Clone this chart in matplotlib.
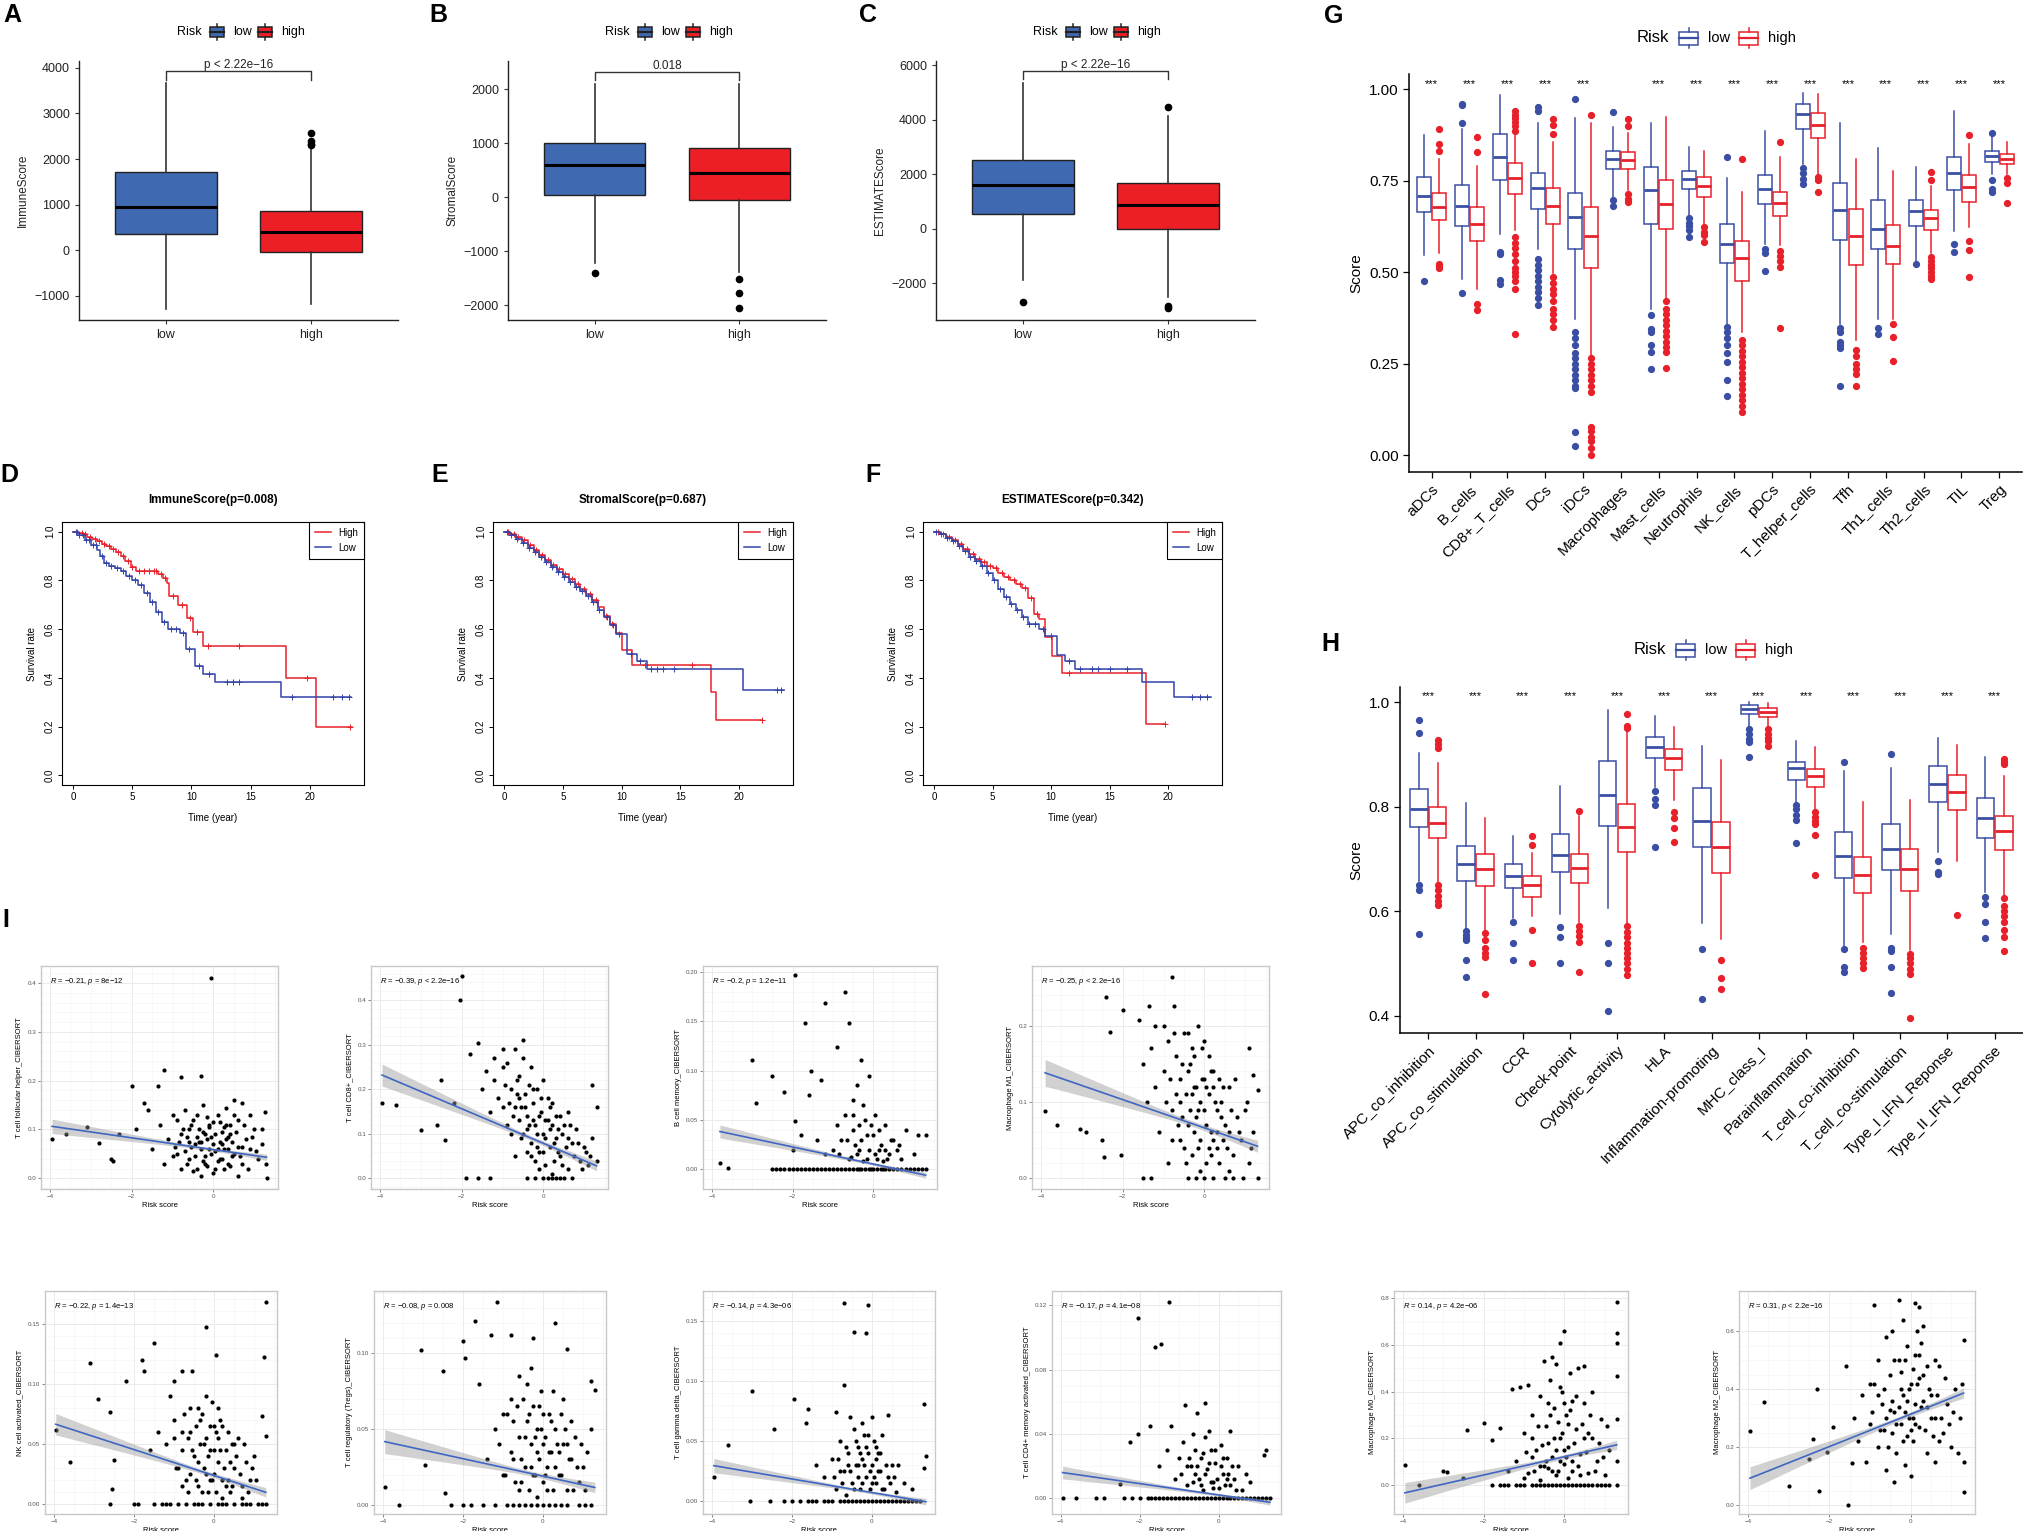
import numpy as np
import matplotlib
matplotlib.use('Agg')
import matplotlib.pyplot as plt
from matplotlib.patches import Rectangle
from matplotlib.lines import Line2D

plt.rcParams['font.family'] = ['Liberation Sans', 'DejaVu Sans']
plt.rcParams['mathtext.fontset'] = 'custom'
plt.rcParams['mathtext.rm'] = 'Liberation Sans'
plt.rcParams['mathtext.it'] = 'Liberation Sans:italic'

# ---------------- data: A-C (ESTIMATE scores by risk group) ----------------
abc_names = ['ImmuneScore', 'StromalScore', 'ESTIMATEScore']
# (q1, median, q3, whisker low, whisker high)
abc_low = [(349, 950, 1705, -1279, 3670), (43, 600, 1000, -1224, 2099), (528, 1607, 2528, -1877, 5337)]
abc_high = [(-47, 393, 870, -1169, 2277), (-49, 451, 915, -1380, 2099), (0, 883, 1693, -2490, 4150)]
abc_low_out = [[], [-1410], [-2699]]
abc_high_out = [[2300, 2340, 2390, 2570], [-1520, -1775, -2060], [4478, -2850, -2920]]
abc_pval = ['p < 2.22e\u221216', '0.018', 'p < 2.22e\u221216']
abc_bracket = [(3927, 3740), (2328, 2173), (5791, 5509)]
abc_ylim = [(-1530, 4150), (-2278, 2526), (-3350, 6160)]
abc_yticks = [[-1000, 0, 1000, 2000, 3000, 4000], [-2000, -1000, 0, 1000, 2000],
              [-2000, 0, 2000, 4000, 6000]]

# ---------------- data: D-F (Kaplan-Meier) ----------------
km_titles = ['ImmuneScore(p=0.008)', 'StromalScore(p=0.687)', 'ESTIMATEScore(p=0.342)']

d_high_t = [0, 0.4, 0.8, 1.2, 1.6, 2.0, 2.4, 2.8, 3.2, 3.6, 4.0, 4.4, 4.9, 5.3, 7.2, 7.6, 7.9, 8.1, 8.9, 9.6, 10.1, 11.0, 18.0, 20.5]
d_high_s = [1.0, 0.995, 0.99, 0.98, 0.97, 0.96, 0.95, 0.94, 0.93, 0.915, 0.90, 0.88, 0.855, 0.84, 0.825, 0.81, 0.79, 0.735, 0.70, 0.645, 0.59, 0.53, 0.40, 0.20]
d_high_end = 23.6
d_high_cens = [0.3, 0.7, 1.0, 1.4, 1.8, 2.2, 2.6, 3.0, 3.4, 3.8, 4.2, 4.6, 5.0, 5.6, 6.0, 6.4, 6.8, 7.0, 7.4, 7.8, 8.4, 9.2, 9.9, 10.5, 11.4, 14.0, 19.8, 23.4]
d_low_t = [0, 0.5, 1.0, 1.5, 2.0, 2.3, 2.6, 3.0, 3.5, 4.0, 4.5, 5.0, 5.5, 6.0, 6.5, 7.0, 7.5, 8.0, 9.0, 9.5, 10.3, 11.0, 12.0, 17.6]
d_low_s = [1.0, 0.985, 0.965, 0.945, 0.925, 0.90, 0.87, 0.86, 0.85, 0.84, 0.82, 0.80, 0.78, 0.75, 0.71, 0.67, 0.63, 0.60, 0.585, 0.52, 0.45, 0.415, 0.385, 0.32]
d_low_end = 23.5
d_low_cens = [0.2, 0.5, 0.8, 1.1, 1.3, 1.7, 1.9, 2.4, 2.8, 3.2, 3.7, 4.2, 4.7, 5.2, 5.7, 6.2, 6.7, 7.2, 7.7, 8.3, 8.7, 9.3, 9.8, 10.6, 11.5, 13.0, 13.5, 14.0, 18.5, 22.0, 22.7, 23.3]

e_high_t = [0, 0.5, 1.0, 1.5, 2.0, 2.5, 3.0, 3.5, 4.0, 4.5, 5.0, 5.5, 6.0, 6.5, 7.0, 7.5, 8.0, 8.5, 9.0, 9.5, 10.0, 10.9, 17.6, 18.0]
e_high_s = [1.0, 0.99, 0.98, 0.965, 0.945, 0.925, 0.905, 0.885, 0.865, 0.845, 0.825, 0.805, 0.785, 0.765, 0.745, 0.72, 0.69, 0.655, 0.62, 0.585, 0.516, 0.452, 0.34, 0.226]
e_high_end = 22.0
e_high_cens = [0.3, 0.8, 1.2, 1.7, 2.2, 2.7, 3.2, 3.7, 4.2, 4.7, 5.2, 5.8, 6.3, 6.8, 7.3, 7.8, 8.7, 9.2, 12.0, 16.0, 22.0]
e_low_t = [0, 0.5, 1.0, 1.5, 2.0, 2.5, 3.0, 3.5, 4.0, 4.5, 5.0, 5.5, 6.0, 6.5, 7.0, 7.5, 8.0, 8.5, 9.0, 9.5, 10.5, 11.3, 12.2, 20.3]
e_low_s = [1.0, 0.985, 0.97, 0.955, 0.935, 0.915, 0.895, 0.875, 0.855, 0.835, 0.815, 0.795, 0.775, 0.755, 0.735, 0.71, 0.68, 0.65, 0.615, 0.58, 0.50, 0.47, 0.436, 0.349]
e_low_end = 23.8
e_low_cens = [0.2, 0.6, 1.1, 1.6, 2.1, 2.6, 3.1, 3.6, 4.1, 4.6, 5.1, 5.6, 6.1, 6.6, 7.1, 7.6, 8.1, 8.8, 9.3, 9.8, 10.8, 11.6, 12.5, 13.0, 13.5, 14.5, 23.2, 23.6]

f_high_t = [0, 0.5, 1.0, 1.5, 2.0, 2.5, 3.0, 3.5, 4.0, 4.5, 5.0, 5.5, 6.0, 6.5, 7.0, 7.5, 8.0, 8.5, 9.0, 9.5, 10.1, 10.9, 18.1]
f_high_s = [1.0, 0.99, 0.98, 0.965, 0.95, 0.93, 0.91, 0.89, 0.875, 0.86, 0.85, 0.83, 0.815, 0.80, 0.785, 0.77, 0.726, 0.664, 0.64, 0.568, 0.489, 0.42, 0.21]
f_high_end = 19.7
f_high_cens = [0.3, 0.8, 1.3, 1.8, 2.3, 2.8, 3.3, 3.8, 4.3, 4.8, 5.3, 5.8, 6.3, 6.8, 7.3, 7.8, 8.3, 8.8, 11.5, 19.7]
f_low_t = [0, 0.5, 1.0, 1.5, 2.0, 2.5, 3.0, 3.5, 4.0, 4.5, 5.0, 5.5, 6.0, 6.5, 7.0, 7.5, 8.0, 9.0, 9.5, 10.5, 11.2, 12.0, 17.8, 20.5]
f_low_s = [1.0, 0.99, 0.975, 0.96, 0.94, 0.92, 0.895, 0.88, 0.86, 0.83, 0.80, 0.765, 0.733, 0.705, 0.68, 0.65, 0.623, 0.60, 0.57, 0.493, 0.47, 0.438, 0.385, 0.32]
f_low_end = 23.7
f_low_cens = [0.2, 0.6, 1.1, 1.6, 2.1, 2.6, 3.1, 3.6, 4.1, 4.6, 5.1, 5.6, 6.1, 6.6, 7.1, 7.6, 8.1, 8.6, 9.3, 10.0, 11.5, 12.5, 13.5, 14.0, 15.0, 16.5, 22.0, 22.7, 23.3]

# ---------------- data: G (immune cells ssGSEA) ----------------
g_cats = ['aDCs', 'B_cells', 'CD8+_T_cells', 'DCs', 'iDCs', 'Macrophages', 'Mast_cells', 'Neutrophils',
          'NK_cells', 'pDCs', 'T_helper_cells', 'Tfh', 'Th1_cells', 'Th2_cells', 'TIL', 'Treg']
g_low = [(0.663, 0.708, 0.759, 0.546, 0.874), (0.627, 0.681, 0.738, 0.481, 0.892),
         (0.751, 0.813, 0.876, 0.605, 0.984), (0.672, 0.729, 0.771, 0.564, 0.908),
         (0.562, 0.651, 0.716, 0.373, 0.921), (0.781, 0.808, 0.832, 0.706, 0.897),
         (0.630, 0.724, 0.786, 0.400, 0.908), (0.726, 0.755, 0.775, 0.654, 0.841),
         (0.526, 0.576, 0.632, 0.357, 0.757), (0.686, 0.726, 0.765, 0.578, 0.884),
         (0.892, 0.933, 0.960, 0.795, 0.990), (0.587, 0.670, 0.744, 0.357, 0.908),
         (0.564, 0.618, 0.697, 0.373, 0.838), (0.627, 0.667, 0.697, 0.530, 0.787),
         (0.724, 0.770, 0.813, 0.611, 0.941), (0.800, 0.816, 0.832, 0.768, 0.870)]
g_high = [(0.641, 0.678, 0.716, 0.551, 0.810), (0.584, 0.630, 0.679, 0.454, 0.791),
          (0.714, 0.757, 0.797, 0.614, 0.881), (0.632, 0.681, 0.730, 0.497, 0.854),
          (0.512, 0.598, 0.679, 0.272, 0.906), (0.782, 0.805, 0.829, 0.724, 0.881),
          (0.619, 0.686, 0.751, 0.427, 0.924), (0.706, 0.735, 0.760, 0.629, 0.830),
          (0.476, 0.538, 0.586, 0.335, 0.719), (0.654, 0.688, 0.719, 0.573, 0.813),
          (0.867, 0.903, 0.935, 0.768, 0.986), (0.519, 0.598, 0.672, 0.314, 0.808),
          (0.522, 0.571, 0.629, 0.373, 0.775), (0.616, 0.649, 0.670, 0.551, 0.735),
          (0.692, 0.732, 0.764, 0.622, 0.849), (0.794, 0.809, 0.822, 0.768, 0.856)]
g_low_out = [[0.476], [0.96, 0.955, 0.908, 0.443], [0.556, 0.549, 0.479, 0.467],
             [0.951, 0.94, 0.535, 0.52, 0.505, 0.49, 0.475, 0.46, 0.445, 0.43, 0.411],
             [0.973, 0.337, 0.32, 0.3, 0.28, 0.265, 0.25, 0.235, 0.22, 0.205, 0.19, 0.184, 0.062, 0.024],
             [0.937, 0.697, 0.681], [0.384, 0.344, 0.337, 0.30, 0.281, 0.235],
             [0.649, 0.635, 0.625, 0.615, 0.595],
             [0.814, 0.351, 0.335, 0.32, 0.30, 0.28, 0.255, 0.205, 0.162],
             [0.562, 0.551, 0.503], [0.784, 0.77, 0.755, 0.741],
             [0.348, 0.335, 0.31, 0.30, 0.292, 0.189], [0.348, 0.330], [0.521],
             [0.578, 0.555], [0.879, 0.751, 0.726, 0.719]]
g_high_out = [[0.89, 0.849, 0.832, 0.521, 0.517, 0.51], [0.868, 0.827, 0.413, 0.397],
              [0.94, 0.93, 0.92, 0.91, 0.9, 0.886, 0.595, 0.58, 0.565, 0.55, 0.53, 0.51, 0.5, 0.49, 0.475, 0.454, 0.33],
              [0.919, 0.903, 0.878, 0.486, 0.47, 0.455, 0.44, 0.42, 0.40, 0.385, 0.37, 0.351],
              [0.93, 0.265, 0.25, 0.235, 0.22, 0.205, 0.19, 0.173, 0.076, 0.065, 0.05, 0.04, 0.02, 0.0],
              [0.917, 0.90, 0.714, 0.70, 0.692],
              [0.42, 0.40, 0.385, 0.37, 0.355, 0.34, 0.325, 0.31, 0.295, 0.281, 0.238],
              [0.622, 0.61, 0.60, 0.581],
              [0.808, 0.314, 0.30, 0.285, 0.27, 0.255, 0.24, 0.225, 0.21, 0.195, 0.18, 0.165, 0.15, 0.135, 0.119],
              [0.854, 0.557, 0.545, 0.53, 0.514, 0.348], [0.76, 0.751, 0.719],
              [0.286, 0.27, 0.25, 0.235, 0.222, 0.189], [0.357, 0.322, 0.257],
              [0.773, 0.751, 0.54, 0.53, 0.52, 0.51, 0.50, 0.49, 0.481],
              [0.874, 0.586, 0.56, 0.486], [0.757, 0.744, 0.69]]
g_stars = ['***'] * 5 + [''] + ['***'] * 10

# ---------------- data: H (immune functions) ----------------
h_cats = ['APC_co_inhibition', 'APC_co_stimulation', 'CCR', 'Check-point', 'Cytolytic_activity', 'HLA',
          'Inflammation-promoting', 'MHC_class_I', 'Parainflammation', 'T_cell_co-inhibition',
          'T_cell_co-stimulation', 'Type_I_IFN_Reponse', 'Type_II_IFN_Reponse']
h_low = [(0.762, 0.796, 0.833, 0.657, 0.902), (0.657, 0.691, 0.725, 0.565, 0.808),
         (0.645, 0.668, 0.691, 0.587, 0.743), (0.675, 0.707, 0.748, 0.594, 0.840),
         (0.764, 0.823, 0.887, 0.606, 0.985), (0.894, 0.915, 0.934, 0.838, 0.974),
         (0.723, 0.773, 0.835, 0.577, 0.916), (0.977, 0.987, 0.994, 0.952, 1.000),
         (0.851, 0.874, 0.886, 0.806, 0.925), (0.663, 0.705, 0.752, 0.532, 0.868),
         (0.679, 0.719, 0.767, 0.556, 0.874), (0.809, 0.843, 0.877, 0.714, 0.932),
         (0.740, 0.778, 0.817, 0.636, 0.895)]
h_high = [(0.740, 0.769, 0.800, 0.654, 0.884), (0.648, 0.681, 0.709, 0.565, 0.779),
          (0.628, 0.650, 0.668, 0.590, 0.712), (0.654, 0.682, 0.709, 0.579, 0.782),
          (0.713, 0.762, 0.805, 0.577, 0.945), (0.870, 0.894, 0.911, 0.813, 0.952),
          (0.673, 0.723, 0.770, 0.546, 0.889), (0.972, 0.982, 0.989, 0.952, 0.998),
          (0.838, 0.858, 0.872, 0.792, 0.915), (0.635, 0.670, 0.704, 0.542, 0.809),
          (0.638, 0.681, 0.719, 0.526, 0.812), (0.794, 0.828, 0.860, 0.696, 0.918),
          (0.718, 0.753, 0.783, 0.629, 0.858)]
h_low_out = [[0.965, 0.941, 0.65, 0.641, 0.557], [0.562, 0.555, 0.548, 0.544, 0.506, 0.474],
             [0.579, 0.539, 0.506], [0.569, 0.551, 0.501], [0.539, 0.501, 0.409],
             [0.83, 0.815, 0.803, 0.723], [0.528, 0.432], [0.948, 0.94, 0.93, 0.923, 0.896],
             [0.803, 0.795, 0.785, 0.775, 0.730], [0.886, 0.528, 0.494, 0.484],
             [0.9, 0.53, 0.524, 0.493, 0.443], [0.696, 0.675, 0.672], [0.627, 0.613, 0.579, 0.548]]
h_high_out = [[0.927, 0.92, 0.913, 0.65, 0.64, 0.63, 0.62, 0.611], [0.558, 0.545, 0.53, 0.52, 0.512, 0.441],
              [0.743, 0.727, 0.565, 0.50], [0.792, 0.572, 0.562, 0.552, 0.542, 0.484],
              [0.977, 0.955, 0.95, 0.572, 0.56, 0.55, 0.54, 0.53, 0.52, 0.51, 0.50, 0.49, 0.478],
              [0.789, 0.778, 0.760, 0.733], [0.507, 0.473, 0.452], [0.948, 0.94, 0.932, 0.925, 0.916],
              [0.789, 0.78, 0.772, 0.767, 0.746, 0.670], [0.53, 0.52, 0.51, 0.50, 0.492],
              [0.519, 0.51, 0.50, 0.49, 0.48, 0.396], [0.592],
              [0.891, 0.885, 0.881, 0.626, 0.61, 0.60, 0.59, 0.58, 0.565, 0.55, 0.523]]
h_stars = ['***'] * 13

# ---------------- data: I (correlation with risk score) ----------------
sc_labels = ['T cell follicular helper_CIBERSORT', 'T cell CD8+_CIBERSORT', 'B cell memory_CIBERSORT',
             'Macrophage M1_CIBERSORT', 'NK cell activated_CIBERSORT', 'T cell regulatory (Tregs)_CIBERSORT',
             'T cell gamma delta_CIBERSORT', 'T cell CD4+ memory activated_CIBERSORT',
             'Macrophage M0_CIBERSORT', 'Macrophage M2_CIBERSORT']
sc_notes = ['$R$ = \u22120.21, $p$ = 8e\u221212', '$R$ = \u22120.39, $p$ < 2.2e\u221216',
            '$R$ = \u22120.2, $p$ = 1.2e\u221211', '$R$ = \u22120.25, $p$ < 2.2e\u221216',
            '$R$ = \u22120.22, $p$ = 1.4e\u221213', '$R$ = \u22120.08, $p$ = 0.008',
            '$R$ = \u22120.14, $p$ = 4.3e\u221206', '$R$ = \u22120.17, $p$ = 4.1e\u221208',
            '$R$ = 0.14, $p$ = 4.2e\u221206', '$R$ = 0.31, $p$ < 2.2e\u221216']
# fitted value at risk score -4 and at 1.3
sc_fit = [(0.107, 0.043), (0.234, 0.028), (0.040, -0.006), (0.140, 0.042), (0.067, 0.010),
          (0.042, 0.0115), (0.030, 0.0), (0.016, -0.0027), (-0.037, 0.171), (0.090, 0.387)]
sc_band = [0.015, 0.025, 0.007, 0.018, 0.009, 0.008, 0.006, 0.004, 0.045, 0.04]
sc_ylim = [(-0.022, 0.435), (-0.024, 0.477), (-0.020, 0.206), (-0.014, 0.278), (-0.008, 0.177),
           (-0.006, 0.141), (-0.0105, 0.175), (-0.010, 0.129), (-0.126, 0.832), (-0.031, 0.740)]
sc_yticks = [[0, 0.1, 0.2, 0.3, 0.4], [0, 0.1, 0.2, 0.3, 0.4], [0, 0.05, 0.10, 0.15, 0.20], [0, 0.1, 0.2],
             [0, 0.05, 0.10, 0.15], [0, 0.05, 0.10], [0, 0.05, 0.10, 0.15], [0, 0.04, 0.08, 0.12],
             [0, 0.2, 0.4, 0.6, 0.8], [0, 0.2, 0.4, 0.6]]

p1 = [(-0.05, 0.41), (-1.2, 0.222), (-1.35, 0.19), (-2.0, 0.19), (-0.3, 0.21), (-0.8, 0.208), (-3.95, 0.08),
      (-3.6, 0.09), (-3.1, 0.105), (-2.8, 0.072), (-2.5, 0.04), (-2.45, 0.035), (-2.3, 0.09), (-1.9, 0.10),
      (-1.7, 0.155), (-1.6, 0.14), (1.25, 0.135), (1.3, 0.0), (1.28, 0.03), (0.7, 0.155), (0.5, 0.16),
      (-1.5, 0.06), (-1.3, 0.11), (-1.1, 0.08), (-1.0, 0.13), (-0.9, 0.05), (-0.8, 0.09), (-0.7, 0.14),
      (-0.6, 0.04), (-0.5, 0.12), (-0.45, 0.07), (-0.4, 0.02), (-0.35, 0.10), (-0.3, 0.06), (-0.25, 0.15),
      (-0.2, 0.03), (-0.15, 0.08), (-0.1, 0.11), (-0.05, 0.05), (0.0, 0.01), (0.05, 0.09), (0.1, 0.13),
      (0.15, 0.04), (0.2, 0.07), (0.25, 0.02), (0.3, 0.11), (0.35, 0.06), (0.4, 0.09), (0.5, 0.05),
      (0.6, 0.12), (0.7, 0.03), (0.8, 0.08), (0.9, 0.06), (1.0, 0.10), (1.1, 0.04), (1.2, 0.07),
      (-1.2, 0.03), (-0.9, 0.12), (-0.6, 0.10), (-0.4, 0.085), (-0.2, 0.045), (0.0, 0.07), (0.2, 0.095),
      (0.4, 0.025), (0.6, 0.065), (0.9, 0.13), (-0.7, 0.055), (-0.3, 0.075), (0.1, 0.035), (0.3, 0.145),
      (-0.5, 0.015), (-0.1, 0.105), (-0.55, 0.065), (-0.25, 0.095), (0.05, 0.055), (0.35, 0.085),
      (-0.85, 0.075), (0.15, 0.115), (-0.15, 0.025), (0.45, 0.045), (-0.65, 0.085), (0.25, 0.06),
      (-0.95, 0.065), (-0.75, 0.1), (-0.65, 0.03), (-0.55, 0.11), (-0.45, 0.045), (-0.35, 0.075),
      (-0.25, 0.035), (-0.15, 0.125), (-0.05, 0.085), (0.05, 0.02), (0.15, 0.075), (0.25, 0.105),
      (0.35, 0.03), (0.45, 0.075), (0.55, 0.095), (0.65, 0.045), (0.75, 0.11), (0.85, 0.02), (0.95, 0.085),
      (1.05, 0.055), (-0.4, 0.13), (-0.1, 0.06), (0.2, 0.04), (0.5, 0.13), (-0.8, 0.02), (0.0, 0.115),
      (0.3, 0.08), (-0.6, 0.075), (-0.2, 0.09), (0.1, 0.06), (0.4, 0.11), (0.7, 0.065), (-1.0, 0.045),
      (1.2, 0.1), (-0.3, 0.005), (0.6, 0.005)]
p2 = [(-2.0, 0.455), (-2.05, 0.40), (-3.95, 0.17), (-3.6, 0.165), (-3.0, 0.108), (-2.5, 0.22), (-2.4, 0.085),
      (-1.8, 0.28), (-1.6, 0.305), (-1.0, 0.29), (-0.7, 0.29), (-0.5, 0.31), (1.2, 0.21), (1.3, 0.16),
      (1.3, 0.04), (-1.9, 0.0), (-1.6, 0.0), (-2.6, 0.12), (-2.2, 0.17), (-1.3, 0.0),
      (-1.5, 0.20), (-1.4, 0.24), (-1.3, 0.15), (-1.2, 0.22), (-1.1, 0.18), (-1.0, 0.25), (-0.9, 0.12),
      (-0.8, 0.20), (-0.7, 0.16), (-0.6, 0.23), (-0.5, 0.10), (-0.45, 0.19), (-0.4, 0.14), (-0.35, 0.21),
      (-0.3, 0.08), (-0.25, 0.17), (-0.2, 0.12), (-0.15, 0.20), (-0.1, 0.06), (-0.05, 0.15), (0.0, 0.10),
      (0.05, 0.03), (0.1, 0.13), (0.15, 0.07), (0.2, 0.17), (0.3, 0.09), (0.4, 0.05), (0.5, 0.12),
      (0.6, 0.02), (0.7, 0.08), (0.8, 0.11), (0.9, 0.04), (1.0, 0.07), (1.1, 0.03), (1.2, 0.09),
      (-1.2, 0.27), (-0.9, 0.26), (-0.6, 0.13), (-0.4, 0.0), (-0.2, 0.0), (0.0, 0.0), (0.2, 0.0), (0.4, 0.0),
      (-0.3, 0.05), (-0.1, 0.02), (0.1, 0.18), (0.3, 0.14), (-0.5, 0.27), (-0.7, 0.05), (0.0, 0.22),
      (0.2, 0.01), (-0.4, 0.11), (0.6, 0.15), (-0.55, 0.16), (-0.25, 0.13), (0.05, 0.09), (0.35, 0.06),
      (-0.85, 0.17), (0.15, 0.11), (-0.15, 0.07), (0.45, 0.10), (-0.65, 0.19), (0.25, 0.04),
      (-0.95, 0.21), (-0.75, 0.14), (-0.65, 0.22), (-0.55, 0.09), (-0.45, 0.16), (-0.35, 0.12), (-0.25, 0.2),
      (-0.15, 0.1), (-0.05, 0.18), (0.05, 0.13), (0.15, 0.16), (0.25, 0.08), (0.35, 0.11), (0.45, 0.03),
      (0.55, 0.07), (0.65, 0.12), (0.75, 0.05), (0.85, 0.08), (0.95, 0.02), (1.05, 0.06), (-0.4, 0.06),
      (-0.1, 0.14), (0.2, 0.12), (0.5, 0.0), (-0.8, 0.1), (0.0, 0.06), (0.3, 0.0), (-0.6, 0.18),
      (-0.2, 0.04), (0.1, 0.0), (0.4, 0.14), (0.7, 0.0), (-1.0, 0.16), (1.15, 0.05), (-0.3, 0.25), (0.6, 0.09)]
p3 = [(-1.95, 0.197), (-0.7, 0.18), (-1.2, 0.168), (-1.7, 0.148), (-0.6, 0.148), (-0.9, 0.124), (-3.0, 0.111),
      (-0.3, 0.111), (-2.5, 0.095), (-1.3, 0.09), (-1.55, 0.10), (-0.1, 0.095), (-2.9, 0.067), (-1.95, 0.049),
      (-3.8, 0.006), (-3.6, 0.001), (-0.5, 0.07), (-0.4, 0.085), (1.3, 0.035), (1.1, 0.035), (0.8, 0.04),
      (-2.2, 0.078), (-1.6, 0.075),
      (-2.5, 0.0), (-2.3, 0.0), (-2.1, 0.0), (-1.9, 0.0), (-1.7, 0.0), (-1.5, 0.0), (-1.3, 0.0), (-1.1, 0.0),
      (-0.9, 0.0), (-0.7, 0.0), (-0.5, 0.0), (-0.3, 0.0), (-0.1, 0.0), (0.1, 0.0), (0.3, 0.0), (0.5, 0.0),
      (0.7, 0.0), (0.9, 0.0), (1.1, 0.0), (1.3, 0.0), (-0.8, 0.0), (-0.4, 0.0), (0.0, 0.0), (0.4, 0.0),
      (-0.2, 0.0), (0.2, 0.0),
      (-1.0, 0.02), (-0.8, 0.03), (-0.6, 0.01), (-0.5, 0.04), (-0.4, 0.015), (-0.3, 0.03), (-0.2, 0.05),
      (-0.1, 0.02), (0.0, 0.035), (0.1, 0.01), (0.2, 0.025), (0.3, 0.045), (0.4, 0.015), (0.5, 0.03),
      (0.6, 0.02), (0.7, 0.01), (-0.7, 0.055), (-0.45, 0.025), (-0.15, 0.01), (0.15, 0.04), (-1.4, 0.03),
      (-1.2, 0.015), (-0.25, 0.065), (0.05, 0.055), (-0.55, 0.012), (0.25, 0.008), (-0.35, 0.045),
      (1.0, 0.015), (-2.0, 0.02), (-1.8, 0.035),
      (-2.4, 0.0), (-2.2, 0.0), (-2.0, 0.0), (-1.8, 0.0), (-1.6, 0.0), (-1.4, 0.0), (-1.2, 0.0), (-1.0, 0.0),
      (-0.6, 0.0), (0.6, 0.0), (0.8, 0.0), (1.0, 0.0), (1.2, 0.0), (-0.35, 0.0), (-0.05, 0.0), (0.25, 0.0),
      (-0.65, 0.03), (-0.35, 0.02), (-0.05, 0.045), (0.15, 0.02), (0.35, 0.01), (-0.85, 0.015),
      (-0.15, 0.035), (0.45, 0.03), (-0.5, 0.055), (0.05, 0.015), (-0.25, 0.008), (0.65, 0.025),
      (-0.9, 0.045), (0.3, 0.02)]
p4 = [(-0.8, 0.264), (-2.4, 0.237), (-2.3, 0.192), (-2.0, 0.22), (-1.6, 0.207), (-1.35, 0.225), (-0.75, 0.225),
      (-3.9, 0.088), (-3.6, 0.07), (-3.05, 0.065), (-2.9, 0.06), (-2.5, 0.05), (-2.45, 0.028), (-2.05, 0.03),
      (1.1, 0.17), (1.2, 0.135), (1.3, 0.115), (1.3, 0.0), (-1.5, 0.0), (-1.3, 0.0),
      (-1.5, 0.15), (-1.4, 0.10), (-1.3, 0.17), (-1.2, 0.12), (-1.1, 0.06), (-1.0, 0.14), (-0.9, 0.18),
      (-0.8, 0.09), (-0.7, 0.16), (-0.6, 0.05), (-0.5, 0.19), (-0.45, 0.11), (-0.4, 0.07), (-0.35, 0.15),
      (-0.3, 0.03), (-0.25, 0.12), (-0.2, 0.08), (-0.15, 0.20), (-0.1, 0.05), (-0.05, 0.13), (0.0, 0.09),
      (0.05, 0.02), (0.1, 0.11), (0.15, 0.06), (0.2, 0.14), (0.3, 0.04), (0.4, 0.10), (0.5, 0.07),
      (0.6, 0.12), (0.7, 0.03), (0.8, 0.08), (0.9, 0.05), (1.0, 0.09), (1.1, 0.02), (1.2, 0.06),
      (-1.2, 0.20), (-0.9, 0.02), (-0.6, 0.13), (-0.4, 0.0), (-0.2, 0.0), (0.0, 0.0), (0.2, 0.0),
      (-0.3, 0.17), (-0.1, 0.10), (0.1, 0.16), (0.3, 0.09), (-0.5, 0.04), (-0.7, 0.11), (0.0, 0.18),
      (0.2, 0.05), (-0.4, 0.14), (0.6, 0.01), (-0.55, 0.08), (-0.25, 0.06), (0.05, 0.12), (0.35, 0.13),
      (-0.85, 0.13), (0.15, 0.03), (-0.15, 0.09), (0.45, 0.05),
      (-0.95, 0.1), (-0.75, 0.19), (-0.65, 0.07), (-0.55, 0.15), (-0.45, 0.02), (-0.35, 0.09), (-0.25, 0.16),
      (-0.15, 0.04), (-0.05, 0.17), (0.05, 0.07), (0.15, 0.14), (0.25, 0.1), (0.35, 0.02), (0.45, 0.12),
      (0.55, 0.04), (0.65, 0.09), (0.75, 0.13), (0.85, 0.06), (0.95, 0.0), (1.05, 0.1), (-0.4, 0.19),
      (-0.1, 0.01), (0.2, 0.12), (0.5, 0.0), (-0.8, 0.05), (0.0, 0.13), (0.3, 0.06), (-0.6, 0.1),
      (-0.2, 0.12), (0.1, 0.04), (0.4, 0.08), (0.7, 0.0), (-1.0, 0.2), (1.15, 0.04), (-0.3, 0.11), (0.6, 0.06)]
p5 = [(1.3, 0.168), (-0.2, 0.147), (-1.5, 0.134), (-3.1, 0.117), (-1.8, 0.12), (0.05, 0.124), (1.25, 0.122),
      (-2.9, 0.087), (-2.6, 0.077), (-3.95, 0.062), (-3.6, 0.035), (-2.5, 0.037), (-2.55, 0.013), (-2.6, 0.0),
      (-2.0, 0.0), (-1.9, 0.0), (-2.2, 0.102), (-1.75, 0.111), (-0.8, 0.111), (-0.55, 0.111), (-1.0, 0.102),
      (1.2, 0.073), (1.3, 0.057),
      (-1.5, 0.0), (-1.3, 0.0), (-1.1, 0.0), (-0.9, 0.0), (-0.7, 0.0), (-0.5, 0.0), (-0.3, 0.0), (-0.1, 0.0),
      (0.1, 0.0), (0.3, 0.0), (0.5, 0.0), (0.7, 0.0), (0.9, 0.0), (1.1, 0.0), (1.3, 0.0),
      (-1.2, 0.05), (-1.0, 0.07), (-0.9, 0.03), (-0.8, 0.06), (-0.7, 0.02), (-0.6, 0.08), (-0.5, 0.04),
      (-0.45, 0.065), (-0.4, 0.015), (-0.35, 0.05), (-0.3, 0.075), (-0.25, 0.03), (-0.2, 0.055),
      (-0.15, 0.01), (-0.1, 0.045), (-0.05, 0.085), (0.0, 0.025), (0.05, 0.06), (0.1, 0.035), (0.15, 0.07),
      (0.2, 0.02), (0.3, 0.045), (0.4, 0.01), (0.5, 0.03), (0.6, 0.055), (0.7, 0.015), (0.8, 0.035),
      (0.9, 0.02), (1.0, 0.04), (-1.4, 0.06), (-1.6, 0.045), (-0.6, 0.025), (-0.2, 0.09), (0.0, 0.045),
      (0.2, 0.065), (-0.4, 0.035), (-0.8, 0.045), (0.35, 0.02), (-0.1, 0.02), (0.1, 0.08), (-0.65, 0.055),
      (-0.3, 0.01), (0.45, 0.05), (-1.1, 0.09),
      (-0.95, 0.03), (-0.75, 0.075), (-0.65, 0.01), (-0.55, 0.045), (-0.45, 0.02), (-0.35, 0.07),
      (-0.25, 0.05), (-0.15, 0.04), (-0.05, 0.02), (0.05, 0.01), (0.15, 0.045), (0.25, 0.03), (0.35, 0.06),
      (0.45, 0.015), (0.55, 0.04), (0.65, 0.025), (0.75, 0.05), (0.85, 0.01), (0.95, 0.03), (1.05, 0.02),
      (-0.4, 0.08), (-0.1, 0.065), (0.2, 0.005), (0.5, 0.05), (-0.8, 0.015), (0.0, 0.065), (0.3, 0.015),
      (-0.6, 0.06), (-0.2, 0.025), (0.1, 0.055), (0.4, 0.035), (0.7, 0.005), (-1.0, 0.055), (-1.2, 0.0),
      (-0.4, 0.0), (0.2, 0.0), (0.8, 0.0), (1.2, 0.0)]
p6 = [(-1.15, 0.134), (-1.7, 0.121), (0.3, 0.12), (-0.8, 0.112), (-1.3, 0.112), (-0.25, 0.11), (-2.0, 0.108),
      (-3.05, 0.102), (0.6, 0.103), (1.3, 0.076), (1.2, 0.082), (-2.5, 0.088), (-3.95, 0.012), (-3.6, 0.0),
      (-2.45, 0.008), (-2.3, 0.0), (-2.0, 0.0), (-1.6, 0.08), (-1.95, 0.097), (-2.95, 0.026),
      (-1.8, 0.0), (-1.5, 0.0), (-1.2, 0.0), (-0.9, 0.0), (-0.6, 0.0), (-0.3, 0.0), (0.0, 0.0), (0.3, 0.0),
      (0.6, 0.0), (0.9, 0.0), (1.2, 0.0), (-0.45, 0.0), (0.15, 0.0),
      (-1.4, 0.03), (-1.2, 0.05), (-1.0, 0.02), (-0.9, 0.06), (-0.8, 0.035), (-0.7, 0.015), (-0.6, 0.045),
      (-0.5, 0.07), (-0.45, 0.025), (-0.4, 0.055), (-0.35, 0.01), (-0.3, 0.04), (-0.25, 0.065), (-0.2, 0.02),
      (-0.15, 0.05), (-0.1, 0.03), (-0.05, 0.075), (0.0, 0.015), (0.05, 0.045), (0.1, 0.025), (0.15, 0.06),
      (0.2, 0.035), (0.3, 0.05), (0.4, 0.02), (0.5, 0.04), (0.6, 0.01), (0.7, 0.03), (0.8, 0.045),
      (0.9, 0.015), (1.0, 0.025), (1.1, 0.035), (-0.6, 0.085), (-0.3, 0.09), (0.0, 0.06), (-0.75, 0.055),
      (0.25, 0.075), (-0.15, 0.005), (0.45, 0.06), (-1.1, 0.04), (-0.55, 0.03),
      (-0.95, 0.02), (-0.75, 0.03), (-0.65, 0.065), (-0.55, 0.015), (-0.45, 0.045), (-0.35, 0.06),
      (-0.25, 0.02), (-0.15, 0.035), (-0.05, 0.05), (0.05, 0.02), (0.15, 0.035), (0.25, 0.01), (0.35, 0.04),
      (0.45, 0.02), (0.55, 0.05), (0.65, 0.03), (0.75, 0.01), (0.85, 0.025), (0.95, 0.04), (1.05, 0.01),
      (-0.4, 0.08), (-0.1, 0.065), (0.2, 0.055), (0.5, 0.07), (-0.8, 0.07), (0.0, 0.04), (0.3, 0.025),
      (-0.6, 0.01), (-0.2, 0.045), (0.1, 0.01), (0.4, 0.035), (0.7, 0.055), (-1.0, 0.06), (1.2, 0.05),
      (-0.3, 0.025), (0.6, 0.04), (-0.75, 0.0), (0.45, 0.0), (-0.15, 0.0), (1.05, 0.0)]
p7 = [(-0.7, 0.165), (-0.1, 0.163), (-0.45, 0.141), (-0.15, 0.14), (-3.0, 0.092), (-0.7, 0.097), (-1.95, 0.085),
      (1.3, 0.081), (-1.6, 0.077), (-3.95, 0.02), (-3.6, 0.047), (-2.45, 0.06), (-3.05, 0.0), (-2.55, 0.0),
      (-2.2, 0.0), (-2.0, 0.0), (-1.65, 0.065), (0.4, 0.072), (-0.9, 0.074), (1.35, 0.038), (1.3, 0.028),
      (-1.8, 0.0), (-1.6, 0.0), (-1.4, 0.0), (-1.2, 0.0), (-1.0, 0.0), (-0.8, 0.0), (-0.6, 0.0), (-0.4, 0.0),
      (-0.2, 0.0), (0.0, 0.0), (0.2, 0.0), (0.4, 0.0), (0.6, 0.0), (0.8, 0.0), (1.0, 0.0), (1.2, 0.0),
      (-0.5, 0.0), (-0.1, 0.0), (0.3, 0.0),
      (-1.2, 0.02), (-1.0, 0.035), (-0.9, 0.01), (-0.8, 0.05), (-0.7, 0.025), (-0.6, 0.04), (-0.5, 0.015),
      (-0.45, 0.06), (-0.4, 0.03), (-0.35, 0.045), (-0.3, 0.01), (-0.25, 0.035), (-0.2, 0.055),
      (-0.15, 0.02), (-0.1, 0.04), (-0.05, 0.01), (0.0, 0.03), (0.05, 0.05), (0.1, 0.015), (0.15, 0.025),
      (0.2, 0.04), (0.3, 0.01), (0.4, 0.02), (0.5, 0.03), (0.6, 0.008), (0.8, 0.015), (1.0, 0.01),
      (-1.4, 0.03), (-0.55, 0.07), (-0.25, 0.065), (0.0, 0.07), (-0.65, 0.005), (0.25, 0.055),
      (-0.85, 0.035), (-0.35, 0.02), (0.1, 0.035),
      (-0.95, 0.02), (-0.75, 0.015), (-0.65, 0.045), (-0.55, 0.025), (-0.45, 0.01), (-0.35, 0.03),
      (-0.25, 0.015), (-0.15, 0.045), (-0.05, 0.025), (0.05, 0.02), (0.15, 0.04), (0.25, 0.01), (0.35, 0.03),
      (0.45, 0.015), (0.55, 0.02), (0.65, 0.03), (-0.4, 0.05), (-0.1, 0.055), (0.2, 0.025), (-0.8, 0.025),
      (0.0, 0.015), (-0.6, 0.03), (-0.2, 0.03), (0.1, 0.045), (-0.3, 0.04), (-0.7, 0.0), (-0.3, 0.0),
      (0.1, 0.0), (0.5, 0.0), (0.9, 0.0), (-1.1, 0.0), (-1.5, 0.0), (1.1, 0.0), (0.7, 0.0)]
p8 = [(-1.25, 0.122), (-2.05, 0.112), (-1.45, 0.096), (-1.6, 0.094), (-0.85, 0.058), (-0.35, 0.059),
      (-0.55, 0.053), (-1.75, 0.045), (-2.05, 0.04), (-0.25, 0.042), (0.3, 0.042), (-2.25, 0.035), (1.2, 0.03),
      (1.15, 0.027), (-2.5, 0.009), (-3.95, 0.0), (-3.6, 0.0), (-3.1, 0.0), (-2.9, 0.0), (-2.4, 0.0),
      (-2.2, 0.0), (-2.0, 0.0), (-1.8, 0.0), (-1.6, 0.0), (-1.4, 0.0), (-1.2, 0.0), (-1.0, 0.0), (-0.8, 0.0),
      (-0.6, 0.0), (-0.4, 0.0), (-0.2, 0.0), (0.0, 0.0), (0.2, 0.0), (0.4, 0.0), (0.6, 0.0), (0.8, 0.0),
      (1.0, 0.0), (1.2, 0.0), (1.3, 0.0), (-0.5, 0.0), (-0.1, 0.0), (0.3, 0.0), (-0.9, 0.0),
      (-1.5, 0.02), (-1.3, 0.03), (-1.1, 0.012), (-1.0, 0.025), (-0.9, 0.035), (-0.8, 0.008), (-0.7, 0.02),
      (-0.6, 0.03), (-0.5, 0.012), (-0.45, 0.025), (-0.4, 0.005), (-0.3, 0.018), (-0.2, 0.03), (-0.15, 0.01),
      (-0.1, 0.022), (0.0, 0.006), (0.1, 0.015), (0.2, 0.025), (0.3, 0.008), (0.4, 0.012), (0.5, 0.02),
      (0.6, 0.005), (0.8, 0.01), (-0.65, 0.04), (-1.2, 0.045), (0.05, 0.033), (-0.35, 0.038), (0.7, 0.015),
      (-0.95, 0.015), (-0.75, 0.025), (-0.65, 0.01), (-0.55, 0.02), (-0.45, 0.008), (-0.35, 0.015),
      (-0.25, 0.022), (-0.15, 0.006), (-0.05, 0.012), (0.05, 0.02), (0.15, 0.008), (0.25, 0.015),
      (0.35, 0.02), (0.45, 0.005), (-0.4, 0.028), (-0.1, 0.03), (0.2, 0.012), (-0.8, 0.02), (-0.6, 0.015),
      (-0.2, 0.01), (0.1, 0.025), (-0.7, 0.0), (-0.3, 0.0), (0.1, 0.0), (0.5, 0.0), (0.9, 0.0), (-1.1, 0.0),
      (-1.3, 0.0), (-1.5, 0.0), (-1.7, 0.0), (1.1, 0.0), (0.7, 0.0)]
p9 = [(1.3, 0.785), (0.0, 0.66), (1.3, 0.65), (1.3, 0.61), (-0.1, 0.61), (-0.5, 0.53), (-0.3, 0.55), (0.5, 0.51),
      (1.3, 0.465), (-1.1, 0.42), (-1.3, 0.41), (-0.9, 0.43), (-2.0, 0.265), (-2.4, 0.235), (-3.95, 0.085),
      (-3.6, 0.0), (-3.0, 0.06), (-2.9, 0.055), (-2.5, 0.03), (-1.6, 0.245), (-1.8, 0.19), (1.3, 0.28),
      (1.3, 0.10), (1.3, 0.0),
      (-1.8, 0.0), (-1.6, 0.0), (-1.4, 0.0), (-1.2, 0.0), (-1.0, 0.0), (-0.8, 0.0), (-0.6, 0.0), (-0.4, 0.0),
      (-0.2, 0.0), (0.0, 0.0), (0.2, 0.0), (0.4, 0.0), (0.6, 0.0), (0.8, 0.0), (1.0, 0.0), (-0.5, 0.0),
      (-0.1, 0.0), (0.3, 0.0),
      (-1.2, 0.10), (-1.0, 0.22), (-0.9, 0.05), (-0.8, 0.30), (-0.7, 0.15), (-0.6, 0.38), (-0.5, 0.08),
      (-0.45, 0.25), (-0.4, 0.18), (-0.35, 0.45), (-0.3, 0.12), (-0.25, 0.33), (-0.2, 0.04), (-0.15, 0.27),
      (-0.1, 0.20), (-0.05, 0.40), (0.0, 0.09), (0.05, 0.30), (0.1, 0.16), (0.15, 0.48), (0.2, 0.06),
      (0.3, 0.24), (0.4, 0.13), (0.5, 0.35), (0.6, 0.05), (0.7, 0.20), (0.8, 0.10), (0.9, 0.28), (1.0, 0.04),
      (1.1, 0.15), (-1.4, 0.06), (-0.6, 0.02), (-0.2, 0.52), (0.0, 0.15), (0.2, 0.36), (-0.4, 0.07),
      (0.35, 0.50), (-0.8, 0.12), (0.1, 0.03), (-0.1, 0.10),
      (-0.95, 0.14), (-0.75, 0.06), (-0.65, 0.25), (-0.55, 0.17), (-0.45, 0.1), (-0.35, 0.3), (-0.25, 0.2),
      (-0.15, 0.06), (-0.05, 0.22), (0.05, 0.12), (0.15, 0.32), (0.25, 0.18), (0.35, 0.08), (0.45, 0.26),
      (0.55, 0.14), (0.65, 0.3), (0.75, 0.06), (0.85, 0.18), (0.95, 0.12), (1.05, 0.25), (-0.4, 0.35),
      (-0.1, 0.42), (0.2, 0.1), (0.5, 0.2), (-0.8, 0.2), (0.0, 0.35), (0.3, 0.38), (-0.6, 0.08),
      (-0.2, 0.15), (0.1, 0.26), (0.4, 0.04), (0.7, 0.4), (-1.0, 0.03), (-0.3, 0.06), (0.6, 0.22),
      (-0.7, 0.0), (-0.3, 0.0), (0.1, 0.0), (0.5, 0.0), (0.9, 0.0), (-1.1, 0.0), (-1.5, 0.0), (1.1, 0.0),
      (0.7, 0.0)]
p10 = [(-0.3, 0.71), (0.1, 0.70), (0.2, 0.685), (-0.9, 0.69), (-3.95, 0.255), (-3.6, 0.355), (-3.0, 0.065),
       (-2.3, 0.40), (-2.25, 0.05), (-2.05, 0.185), (-1.55, 0.0), (-1.45, 0.145), (1.3, 0.57), (1.3, 0.045),
       (1.3, 0.15), (1.25, 0.42), (-1.6, 0.48), (-2.5, 0.16), (-2.4, 0.23), (-1.9, 0.27),
       (-1.4, 0.30), (-1.3, 0.22), (-1.2, 0.38), (-1.1, 0.15), (-1.0, 0.28), (-0.9, 0.42), (-0.8, 0.20),
       (-0.7, 0.35), (-0.6, 0.12), (-0.5, 0.45), (-0.45, 0.25), (-0.4, 0.32), (-0.35, 0.18), (-0.3, 0.50),
       (-0.25, 0.28), (-0.2, 0.38), (-0.15, 0.14), (-0.1, 0.55), (-0.05, 0.30), (0.0, 0.42), (0.05, 0.22),
       (0.1, 0.35), (0.15, 0.60), (0.2, 0.27), (0.3, 0.45), (0.4, 0.18), (0.5, 0.38), (0.6, 0.30),
       (0.7, 0.48), (0.8, 0.25), (0.9, 0.35), (1.0, 0.20), (1.1, 0.40), (1.2, 0.30), (-0.6, 0.58),
       (-0.2, 0.64), (0.0, 0.10), (0.3, 0.62), (-0.4, 0.08), (0.6, 0.15), (-0.8, 0.50), (-0.1, 0.24),
       (0.2, 0.52), (-0.5, 0.33), (0.4, 0.34), (0.05, 0.47), (-0.25, 0.40), (-0.65, 0.26),
       (-0.95, 0.32), (-0.75, 0.26), (-0.65, 0.4), (-0.55, 0.2), (-0.45, 0.36), (-0.35, 0.28), (-0.25, 0.46),
       (-0.15, 0.32), (-0.05, 0.4), (0.05, 0.3), (0.15, 0.42), (0.25, 0.34), (0.35, 0.26), (0.45, 0.4),
       (0.55, 0.24), (0.65, 0.38), (0.75, 0.3), (0.85, 0.44), (0.95, 0.28), (1.05, 0.32), (-0.4, 0.5),
       (-0.1, 0.36), (0.2, 0.44), (0.5, 0.3), (-0.8, 0.38), (0.0, 0.26), (0.3, 0.36), (-0.6, 0.3),
       (-0.2, 0.22), (0.1, 0.28), (0.4, 0.48), (0.7, 0.22), (-1.0, 0.42), (1.15, 0.18), (-0.3, 0.34),
       (0.6, 0.5), (-0.45, 0.6), (0.25, 0.56), (-0.15, 0.5), (0.1, 0.52)]
sc_pts = [p1, p2, p3, p4, p5, p6, p7, p8, p9, p10]

# ---------------- layout helpers (pixel positions of the 2023x1531 canvas) ----------------
W, H = 2023, 1531
BLUE_F, RED_F = '#3F69B1', '#EC1F26'
BLUE_L, RED_L = '#3A4FA3', '#E8202A'
KM_RED, KM_BLUE = '#E8222B', '#3344AA'

fig = plt.figure(figsize=(W / 100, H / 100), dpi=100)


def rect(l, t, r, b):
    return [l / W, 1 - b / H, (r - l) / W, (b - t) / H]


def letter(x, y, s):
    fig.text(x / W, 1 - y / H, s, fontsize=18, fontweight='bold', ha='left', va='center')


def risk_legend(x0, yc, filled, fs_title, fs, offs, kw, kh):
    fig.text(x0 / W, 1 - yc / H, 'Risk', fontsize=fs_title, ha='left', va='center')
    cols = [BLUE_F, RED_F] if filled else [BLUE_L, RED_L]
    for k, name in enumerate(['low', 'high']):
        kx = x0 + offs[2 * k]
        face = cols[k] if filled else 'white'
        edge = '#222222' if filled else cols[k]
        fig.add_artist(Rectangle((kx / W, 1 - (yc + kh / 2) / H), kw / W, kh / H,
                                 transform=fig.transFigure, facecolor=face, edgecolor=edge, lw=1.1))
        fig.add_artist(Line2D([kx / W, (kx + kw) / W], [1 - yc / H] * 2, transform=fig.transFigure,
                              color=edge, lw=1.6))
        cx = (kx + kw / 2) / W
        stub = kh * 0.28
        fig.add_artist(Line2D([cx, cx], [1 - (yc - kh / 2 - stub) / H, 1 - (yc - kh / 2) / H],
                              transform=fig.transFigure, color=edge, lw=1.1))
        fig.add_artist(Line2D([cx, cx], [1 - (yc + kh / 2) / H, 1 - (yc + kh / 2 + stub) / H],
                              transform=fig.transFigure, color=edge, lw=1.1))
        fig.text((x0 + offs[2 * k + 1]) / W, 1 - yc / H, name, fontsize=fs, ha='left', va='center')


def stats_of(s, out):
    return dict(q1=s[0], med=s[1], q3=s[2], whislo=s[3], whishi=s[4], fliers=out)


# ---------------- A-C ----------------
abc_rects = [(79, 61, 398, 320), (508, 61, 826, 320), (936, 61, 1255, 320)]
abc_letters = [(3, 'A'), (429, 'B'), (859, 'C')]
abc_leg_x = [177, 605, 1033]
for i in range(3):
    ax = fig.add_axes(rect(*abc_rects[i]))
    for pos, s, out, col in [(1, abc_low[i], abc_low_out[i], BLUE_F), (2, abc_high[i], abc_high_out[i], RED_F)]:
        ax.bxp([stats_of(s, out)], positions=[pos], widths=0.7, showcaps=False, patch_artist=True,
               boxprops=dict(facecolor=col, edgecolor='#222222', lw=1.0),
               whiskerprops=dict(color='#333333', lw=1.2),
               medianprops=dict(color='black', lw=2.2),
               flierprops=dict(marker='o', markerfacecolor='black', markeredgecolor='black', markersize=4.5))
    yb, yt = abc_bracket[i]
    ax.plot([1, 1, 2, 2], [yt, yb, yb, yt], color='#333333', lw=1.0)
    ax.text(1.5, yb, abc_pval[i], ha='center', va='bottom', fontsize=8.5, color='#222222')
    ax.set_xlim(0.4, 2.6)
    ax.set_ylim(*abc_ylim[i])
    ax.set_yticks(abc_yticks[i])
    ax.set_xticks([1, 2])
    ax.set_xticklabels(['low', 'high'])
    ax.set_ylabel(abc_names[i], fontsize=8.5, color='#222222')
    ax.tick_params(labelsize=9, length=3, width=0.8, colors='#333333', labelcolor='#222222')
    for sp in ['top', 'right']:
        ax.spines[sp].set_visible(False)
    for sp in ['left', 'bottom']:
        ax.spines[sp].set_linewidth(1.0)
        ax.spines[sp].set_color('#222222')
    letter(abc_letters[i][0], 15, abc_letters[i][1])
    risk_legend(abc_leg_x[i], 32, True, 9, 9, (33, 56, 81, 104), 14, 10)

# ---------------- D-F ----------------
km_rects = [(62, 522, 364, 785), (493, 522, 793, 785), (923, 522, 1222, 785)]
km_letters = [(0, 'D'), (431, 'E'), (865, 'F')]
km_data = [
    [(d_high_t, d_high_s, d_high_end, d_high_cens), (d_low_t, d_low_s, d_low_end, d_low_cens)],
    [(e_high_t, e_high_s, e_high_end, e_high_cens), (e_low_t, e_low_s, e_low_end, e_low_cens)],
    [(f_high_t, f_high_s, f_high_end, f_high_cens), (f_low_t, f_low_s, f_low_end, f_low_cens)],
]
for i in range(3):
    ax = fig.add_axes(rect(*km_rects[i]))
    handles = []
    for (t, s, t_end, cens), col, name in zip(km_data[i], [KM_RED, KM_BLUE], ['High', 'Low']):
        tt = list(t) + [t_end]
        ss = list(s) + [s[-1]]
        ln, = ax.step(tt, ss, where='post', color=col, lw=1.1, label=name)
        idx = np.searchsorted(np.array(t), np.array(cens), side='right') - 1
        ax.plot(cens, np.array(s)[idx], '+', color=col, ms=4, mew=0.7)
        handles.append(ln)
    ax.set_xlim(-0.95, 24.6)
    ax.set_ylim(-0.04, 1.04)
    ax.set_xticks([0, 5, 10, 15, 20])
    ax.set_yticks([0, 0.2, 0.4, 0.6, 0.8, 1.0])
    ax.set_yticklabels(['0.0', '0.2', '0.4', '0.6', '0.8', '1.0'], rotation=90, va='center')
    ax.tick_params(labelsize=7, length=3, width=0.7, pad=2)
    ax.set_xlabel('Time (year)', fontsize=7, labelpad=8)
    ax.set_ylabel('Survival rate', fontsize=7, labelpad=6)
    ax.set_title(km_titles[i], fontsize=8.5, fontweight='bold', pad=14)
    for sp in ax.spines.values():
        sp.set_linewidth(0.8)
    ax.legend(handles=handles, loc='upper right', fontsize=7, fancybox=False, edgecolor='black',
              framealpha=1, borderaxespad=0, handlelength=1.6, borderpad=0.6, labelspacing=0.5)
    ax.get_legend().get_frame().set_linewidth(0.8)
    letter(km_letters[i][0], 475, km_letters[i][1])


# ---------------- G and H ----------------
def immune_panel(ax, cats, low, high, low_out, high_out, stars, ylim, yticks, ylabels):
    n = len(cats)
    pos = np.arange(1, n + 1)
    for stats, outs, off, col in [(low, low_out, -0.2, BLUE_L), (high, high_out, 0.2, RED_L)]:
        ax.bxp([stats_of(s, o) for s, o in zip(stats, outs)], positions=pos + off, widths=0.37,
               showcaps=False, patch_artist=True,
               boxprops=dict(facecolor='white', edgecolor=col, lw=1.1),
               whiskerprops=dict(color=col, lw=1.1),
               medianprops=dict(color=col, lw=2.0),
               flierprops=dict(marker='o', markerfacecolor=col, markeredgecolor=col, markersize=4.2))
    star_y = ylim[1] - 0.025 * (ylim[1] - ylim[0])
    for p, s in zip(pos, stars):
        if s:
            ax.text(p, star_y, s, ha='center', va='center', fontsize=8)
    ax.set_xlim(0.4, n + 0.6)
    ax.set_ylim(*ylim)
    ax.set_yticks(yticks)
    ax.set_yticklabels(ylabels)
    ax.set_xticks(pos)
    ax.set_xticklabels(cats, rotation=45, ha='right', rotation_mode='anchor')
    ax.set_ylabel('Score', fontsize=11)
    ax.tick_params(labelsize=11, length=4, width=0.9)
    for sp in ['top', 'right']:
        ax.spines[sp].set_visible(False)
    for sp in ['left', 'bottom']:
        ax.spines[sp].set_linewidth(1.1)


axg = fig.add_axes(rect(1409, 74, 2022, 472))
immune_panel(axg, g_cats, g_low, g_high, g_low_out, g_high_out, g_stars, (-0.046, 1.041),
             [0, 0.25, 0.5, 0.75, 1.0], ['0.00', '0.25', '0.50', '0.75', '1.00'])
letter(1324, 16, 'G')
risk_legend(1637, 38, False, 12, 10.5, (42, 71, 102, 131), 19, 13)

axh = fig.add_axes(rect(1400, 687, 2023, 1033))
immune_panel(axh, h_cats, h_low, h_high, h_low_out, h_high_out, h_stars, (0.367, 1.029),
             [0.4, 0.6, 0.8, 1.0], ['0.4', '0.6', '0.8', '1.0'])
letter(1321, 644, 'H')
risk_legend(1634, 650, False, 12, 10.5, (42, 71, 102, 131), 19, 13)

# ---------------- I ----------------
sc_rects = [(41, 966, 278, 1189), (371, 966, 608, 1189), (703, 966, 937, 1189), (1032, 966, 1269, 1189),
            (45, 1291, 277, 1514), (374, 1291, 606, 1514), (703, 1291, 935, 1514), (1052, 1291, 1281, 1514),
            (1394, 1291, 1628, 1514), (1739, 1291, 1975, 1514)]
letter(2, 920, 'I')
for i in range(10):
    ax = fig.add_axes(rect(*sc_rects[i]))
    x, y = np.array(sc_pts[i]).T
    ax.scatter(x, y, s=9, color='black', linewidths=0, zorder=3)
    yl, yr = sc_fit[i]
    slope = (yr - yl) / (1.3 - (-4.0))
    xs = np.linspace(x.min(), x.max(), 80)
    ys = yl + slope * (xs + 4.0)
    hw = sc_band[i] / 5.0 * np.sqrt(1 + ((xs + 0.2) / 0.776) ** 2)
    ax.fill_between(xs, ys - hw, ys + hw, color='#999999', alpha=0.45, lw=0, zorder=4)
    ax.plot(xs, ys, color='#3F66C4', lw=1.2, zorder=5)
    ax.set_xlim(-4.22, 1.58)
    ax.set_ylim(*sc_ylim[i])
    ax.set_xticks([-4, -2, 0])
    ax.set_yticks(sc_yticks[i])
    ax.minorticks_on()
    ax.grid(True, which='major', color='#EBEBEB', lw=0.7, zorder=0)
    ax.grid(True, which='minor', color='#F4F4F4', lw=0.4, zorder=0)
    ax.tick_params(which='minor', length=0)
    ax.tick_params(which='major', labelsize=4.5, length=2, width=0.5, colors='#555555', pad=1.5)
    ax.set_xlabel('Risk score', fontsize=5.5, labelpad=2)
    ax.set_ylabel(sc_labels[i], fontsize=5.5, labelpad=3)
    for sp in ax.spines.values():
        sp.set_color('#C8C8C8')
        sp.set_linewidth(1.0)
    ax.text(0.04, 0.93, sc_notes[i], transform=ax.transAxes, fontsize=5.5, ha='left', va='center')

fig.savefig('out.png', dpi=100)
